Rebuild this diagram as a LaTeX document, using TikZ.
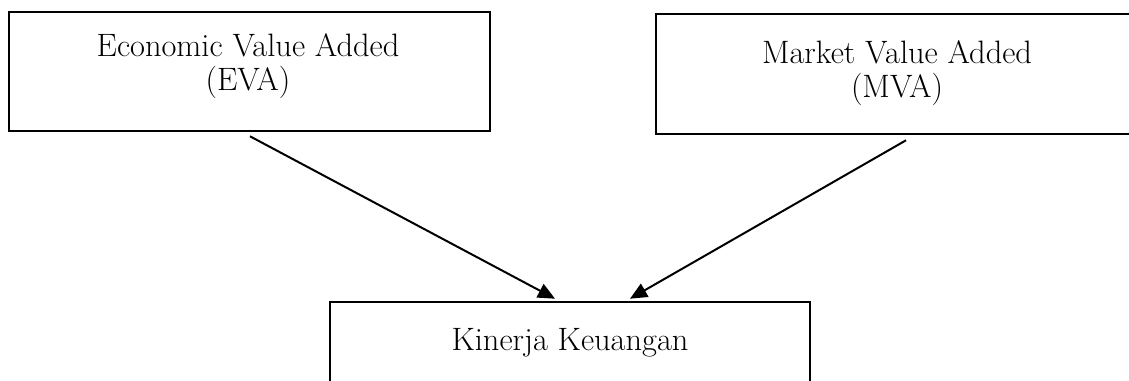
\documentclass[tikz,border=0pt]{standalone}
\usetikzlibrary{arrows.meta,calc}
\begin{document}
\begin{tikzpicture}[x=0.5pt,y=-0.5pt,
  box/.style={draw=black,line width=1.3pt,rectangle,inner sep=0pt},
  lbl/.style={inner sep=0pt,align=center,font=\fontsize{16.2}{17}\selectfont},
  arr/.style={line width=1pt,-{Triangle[length=8.5pt,width=7.5pt]}}]
\useasboundingbox (0,0) rectangle (1129,380);
\begin{scope}
\clip (0,0) rectangle (1129,380);
\node[box,minimum width=240.5pt,minimum height=59.5pt] (eva) at (249.5,71.5) {};
\node[box,minimum width=240pt,minimum height=60pt] (mva) at (896,74) {};
\node[box,minimum width=240pt,minimum height=59pt] (keu) at (570,361) {};
\node[lbl,anchor=base] (evat) at (248,90) {Economic Value Added\\(EVA)};
\node[lbl,anchor=base] (mvat) at (897,97) {Market Value Added\\(MVA)};
\node[lbl,anchor=base] (keut) at (570,350) {Kinerja Keuangan};
\draw[arr] ([xshift=0.25pt,yshift=-2pt]eva.south) -- ([xshift=-7.5pt,yshift=1pt]keu.north);
\draw[arr] ([xshift=5pt,yshift=-2.5pt]mva.south) -- ([xshift=30pt,yshift=1pt]keu.north);
\end{scope}
\end{tikzpicture}
\end{document}
